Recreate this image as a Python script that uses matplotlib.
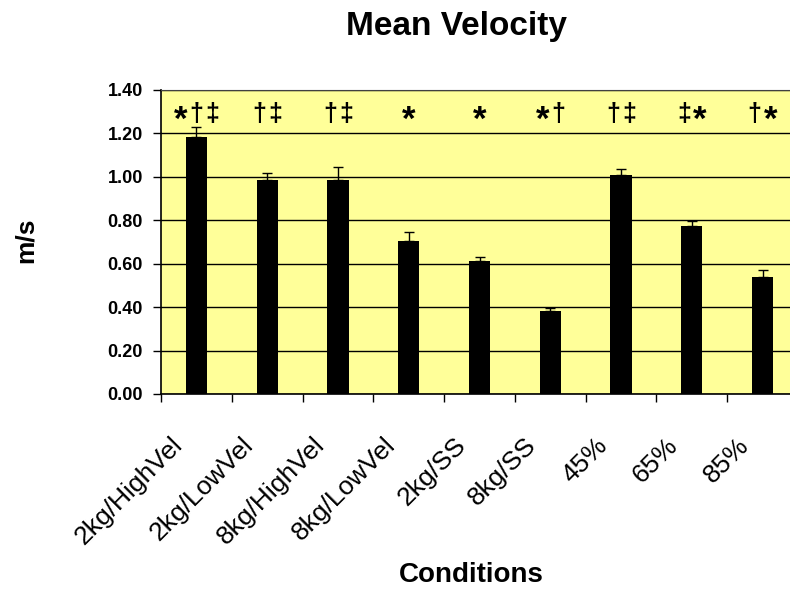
import numpy as np
import matplotlib
matplotlib.use("Agg")
import matplotlib.pyplot as plt
from matplotlib.transforms import ScaledTranslation

plt.rcParams['font.family'] = ['Liberation Sans', 'DejaVu Sans']

conditions = ['2kg/HighVel', '2kg/LowVel', '8kg/HighVel', '8kg/LowVel',
              '2kg/SS', '8kg/SS', '45%', '65%', '85%']
mean_vel = [1.185, 0.986, 0.986, 0.706, 0.612, 0.382, 1.007, 0.772, 0.540]
err_up = [0.045, 0.033, 0.060, 0.040, 0.017, 0.012, 0.030, 0.023, 0.030]
marks = ['*†‡', '†‡', '†‡', '*', '*', '*†', '†‡', '‡*', '†*']
mark_level = 1.29

fig = plt.figure(figsize=(7.9, 5.91), dpi=100)
ax = fig.add_axes([161/790, 1-394/591, (798-161)/790, (394-90)/591])
ax.set_facecolor('#FFFF99')

x = np.arange(len(conditions))
ax.bar(x, mean_vel, width=0.30, color='black', zorder=3)
ax.errorbar(x, mean_vel, yerr=[np.zeros(len(err_up)), err_up], fmt='none',
            ecolor='black', elinewidth=1, capsize=3.3, capthick=1, zorder=4)

# significance symbols, one char at a time so the asterisk sits lower
for xi, s in zip(x, marks):
    n = len(s)
    for k, ch in enumerate(s):
        dx = (k - (n - 1) / 2) * 11.5
        if ch == '*':
            ax.annotate(ch, (xi, mark_level), xytext=(dx, -5), textcoords='offset points',
                        ha='center', va='center', fontsize=25, fontweight='bold')
        else:
            ax.annotate(ch, (xi, mark_level), xytext=(dx, 0), textcoords='offset points',
                        ha='center', va='center', fontsize=18, fontweight='bold')

ax.set_ylim(0, 1.4)
ax.set_xlim(-0.5, len(conditions) - 0.5)
ax.set_yticks(np.arange(0, 1.41, 0.2))
ax.set_yticklabels(['%.2f' % v for v in np.arange(0, 1.41, 0.2)],
                   fontsize=13, fontweight='bold')
ax.yaxis.grid(True, color='black', linewidth=1)
ax.set_axisbelow(True)

ax.set_xticks(np.arange(-0.5, len(conditions), 1))
ax.set_xticklabels([])
ax.set_xticks(x, minor=True)
ax.set_xticklabels(conditions, minor=True, rotation=45, ha='right', fontsize=19)
ax.tick_params(axis='x', which='major', direction='out', length=6, width=1)
ax.tick_params(axis='x', which='minor', length=0, pad=28)
ax.tick_params(axis='y', direction='out', length=6, width=1, pad=7)
off = ScaledTranslation(-9/100, 0, fig.dpi_scale_trans)
for lab in ax.get_xticklabels(minor=True):
    lab.set_transform(lab.get_transform() + off)

for side in ['left', 'bottom']:
    ax.spines[side].set_color('black')
    ax.spines[side].set_linewidth(1.2)
ax.spines['top'].set_color('#404040')
ax.spines['right'].set_color('#404040')

fig.text(457/790, 1-27/591, 'Mean Velocity', ha='center', va='center',
         fontsize=24, fontweight='bold')
fig.text(471/790, 1-575/591, 'Conditions', ha='center', va='center',
         fontsize=20, fontweight='bold')
fig.text(26/790, 1-240/591, 'm/s', ha='center', va='center', rotation=90,
         fontsize=19, fontweight='bold')

fig.savefig('out.png', dpi=100)
